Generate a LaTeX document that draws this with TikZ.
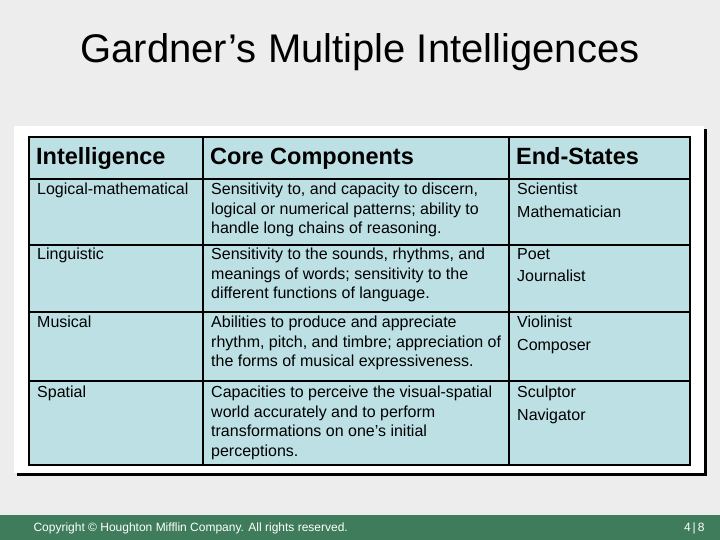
\documentclass[tikz,border=0pt]{standalone}
\usepackage{fontspec}
\setmainfont{Liberation Sans}
\definecolor{cell}{HTML}{BCE0E4}
\definecolor{foot}{HTML}{3E7C5C}
\definecolor{bg}{HTML}{EDEDED}
\begin{document}
\begin{tikzpicture}[x=1pt,y=-1pt,
  hdr/.style={anchor=base west,inner sep=0pt,font=\fontsize{23.5}{26}\selectfont\bfseries},
  txt/.style={anchor=north west,align=left,font=\fontsize{16}{19.5}\selectfont,inner sep=0pt}]
\useasboundingbox (0,0) rectangle (720,540);
\fill[bg] (0,0) rectangle (720,540);
\node (title) at (360,52) {\fontsize{40}{44}\selectfont Gardner’s Multiple Intelligences};
\fill[black] (17,129) rectangle (707,476);
\fill[white] (14,126) rectangle (704,473);
\fill[cell] (29,137) rectangle (690,465);
\draw[line width=2pt] (29,137) rectangle (690,465);
\foreach \yy in {179,245,312,381} \draw[line width=1.5pt] (29,\yy) -- (690,\yy);
\foreach \xx in {203,509} \draw[line width=1.5pt] (\xx,137) -- (\xx,465);
\node[hdr] (h1) at (36,165) {Intelligence};
\node[hdr] (h2) at (210,165) {Core Components};
\node[hdr] (h3) at (516,165) {End-States};
\node[txt] (a1) at (37,183) {Logical-mathematical};
\node[txt] (b1) at (211,183) {Sensitivity to, and capacity to discern,\\logical or numerical patterns; ability to\\handle long chains of reasoning.};
\node[txt] (c1) at (517,183) {Scientist\\[3pt]Mathematician};
\node[txt] (a2) at (37,248) {Linguistic};
\node[txt] (b2) at (211,248) {Sensitivity to the sounds, rhythms, and\\meanings of words; sensitivity to the\\different functions of language.};
\node[txt] (c2) at (517,248) {Poet\\[3pt]Journalist};
\node[txt] (a3) at (37,316) {Musical};
\node[txt] (b3) at (211,316) {Abilities to produce and appreciate\\rhythm, pitch, and timbre; appreciation of\\the forms of musical expressiveness.};
\node[txt] (c3) at (517,316) {Violinist\\[3pt]Composer};
\node[txt] (a4) at (37,386) {Spatial};
\node[txt] (b4) at (211,386) {Capacities to perceive the visual-spatial\\world accurately and to perform\\transformations on one’s initial\\perceptions.};
\node[txt] (c4) at (517,386) {Sculptor\\[3pt]Navigator};
\fill[foot] (0,515) rectangle (720,540);
\node[anchor=west,text=white,font=\fontsize{12}{14}\selectfont] (copy) at (30,528) {Copyright © Houghton Mifflin Company. All rights reserved.};
\node[anchor=east,text=white,font=\fontsize{12}{14}\selectfont] (pg) at (708,528) {4\,|\,8};
\end{tikzpicture}
\end{document}
